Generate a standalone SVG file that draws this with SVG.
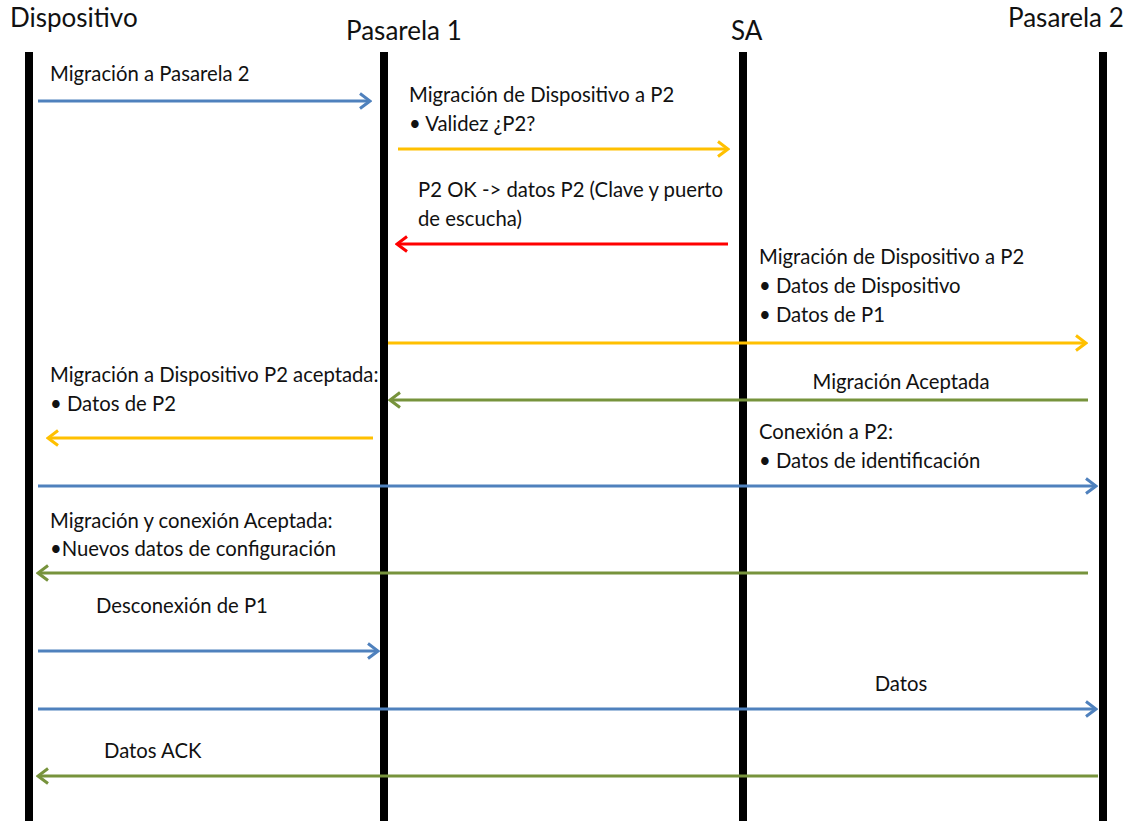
<svg xmlns="http://www.w3.org/2000/svg" width="1130" height="821" viewBox="0 0 1130 821">
  <style>
    .life { stroke: #000; stroke-width: 8; }
    .hdr { font-family: Lato, "Open Sans", sans-serif; font-size: 26px; fill: #111; }
    .lbl { font-family: Lato, "Open Sans", sans-serif; font-size: 20.3px; fill: #111; }
    .msg { stroke-width: 3; fill: none; }
    .blue { stroke: #4F81BD; }
    .orange { stroke: #FFC000; }
    .red { stroke: #FF0000; }
    .green { stroke: #77933C; }
  </style>
  <defs>
    <marker id="hBlue" markerUnits="userSpaceOnUse" viewBox="0 0 14 18" refX="12" refY="9" markerWidth="14" markerHeight="18" orient="auto">
      <path d="M2,1.5 L12,9 L2,16.5" fill="none" stroke="#4F81BD" stroke-width="3"/>
    </marker>
    <marker id="hOrange" markerUnits="userSpaceOnUse" viewBox="0 0 14 18" refX="12" refY="9" markerWidth="14" markerHeight="18" orient="auto">
      <path d="M2,1.5 L12,9 L2,16.5" fill="none" stroke="#FFC000" stroke-width="3"/>
    </marker>
    <marker id="hRed" markerUnits="userSpaceOnUse" viewBox="0 0 14 18" refX="12" refY="9" markerWidth="14" markerHeight="18" orient="auto">
      <path d="M2,1.5 L12,9 L2,16.5" fill="none" stroke="#FF0000" stroke-width="3"/>
    </marker>
    <marker id="hGreen" markerUnits="userSpaceOnUse" viewBox="0 0 14 18" refX="12" refY="9" markerWidth="14" markerHeight="18" orient="auto">
      <path d="M2,1.5 L12,9 L2,16.5" fill="none" stroke="#77933C" stroke-width="3"/>
    </marker>
  </defs>
  <rect width="1130" height="821" fill="#fff"/>

  <!-- participants with their lifelines -->
  <g id="dispositivo">
    <text class="hdr" x="10" y="27">Dispositivo</text>
    <line class="life" x1="29" y1="52" x2="29" y2="821"/>
  </g>
  <g id="pasarela1">
    <text class="hdr" x="346" y="40">Pasarela 1</text>
    <line class="life" x1="384" y1="52" x2="384" y2="821"/>
  </g>
  <g id="sa">
    <text class="hdr" x="731" y="40">SA</text>
    <line class="life" x1="743" y1="52" x2="743" y2="821"/>
  </g>
  <g id="pasarela2">
    <text class="hdr" x="1008" y="27">Pasarela 2</text>
    <line class="life" x1="1103" y1="52" x2="1103" y2="821"/>
  </g>

  <!-- messages -->
  <g id="connectors">
    <line class="msg blue" x1="38" y1="101" x2="370" y2="101" marker-end="url(#hBlue)"/>
    <line class="msg orange" x1="398" y1="149" x2="728" y2="149" marker-end="url(#hOrange)"/>
    <line class="msg red" x1="728" y1="244" x2="397" y2="244" marker-end="url(#hRed)"/>
    <line class="msg orange" x1="388" y1="343" x2="1086" y2="343" marker-end="url(#hOrange)"/>
    <line class="msg green" x1="1088" y1="400" x2="390" y2="400" marker-end="url(#hGreen)"/>
    <line class="msg orange" x1="373" y1="438" x2="48" y2="438" marker-end="url(#hOrange)"/>
    <line class="msg blue" x1="38" y1="486" x2="1096" y2="486" marker-end="url(#hBlue)"/>
    <line class="msg green" x1="1088" y1="573" x2="38" y2="573" marker-end="url(#hGreen)"/>
    <line class="msg blue" x1="38" y1="651" x2="378" y2="651" marker-end="url(#hBlue)"/>
    <line class="msg blue" x1="38" y1="709" x2="1096" y2="709" marker-end="url(#hBlue)"/>
    <line class="msg green" x1="1098" y1="776" x2="38" y2="776" marker-end="url(#hGreen)"/>
  </g>

  <!-- message labels -->
  <g id="labels">
    <text class="lbl" x="50" y="81">Migración a Pasarela 2</text>
    <text class="lbl" x="409" y="102">Migración de Dispositivo a P2</text>
    <text class="lbl" x="409" y="131">• Validez ¿P2?</text>
    <text class="lbl" x="418" y="197">P2 OK -&gt; datos P2 (Clave y puerto</text>
    <text class="lbl" x="418" y="226">de escucha)</text>
    <text class="lbl" x="759" y="264">Migración de Dispositivo a P2</text>
    <text class="lbl" x="759" y="293">• Datos de Dispositivo</text>
    <text class="lbl" x="759" y="322">• Datos de P1</text>
    <text class="lbl" x="901" y="389" text-anchor="middle">Migración Aceptada</text>
    <text class="lbl" x="50" y="382">Migración a Dispositivo P2 aceptada:</text>
    <text class="lbl" x="50" y="411">• Datos de P2</text>
    <text class="lbl" x="759" y="439">Conexión a P2:</text>
    <text class="lbl" x="759" y="468">• Datos de identificación</text>
    <text class="lbl" x="50" y="528">Migración y conexión Aceptada:</text>
    <text class="lbl" x="50" y="556">•Nuevos datos de configuración</text>
    <text class="lbl" x="96" y="613">Desconexión de P1</text>
    <text class="lbl" x="901" y="691" text-anchor="middle">Datos</text>
    <text class="lbl" x="104" y="758">Datos ACK</text>
  </g>
</svg>
